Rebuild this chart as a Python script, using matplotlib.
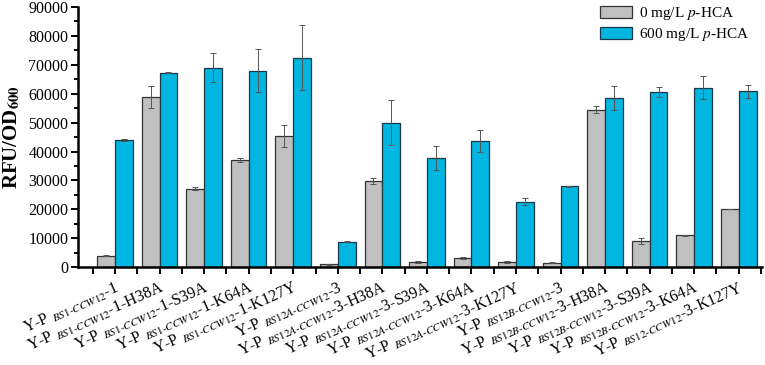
import numpy as np
import matplotlib.pyplot as plt
from matplotlib.ticker import MultipleLocator

plt.rcParams['font.family'] = ['Liberation Serif', 'DejaVu Serif']
plt.rcParams['mathtext.fontset'] = 'stix'

promoters = ['BS1-CCW12'] * 5 + ['BS12A-CCW12'] * 5 + ['BS12B-CCW12'] * 4 + ['BS12-CCW12']
suffixes = ['1', '1-H38A', '1-S39A', '1-K64A', '1-K127Y',
            '3', '3-H38A', '3-S39A', '3-K64A', '3-K127Y',
            '3', '3-H38A', '3-S39A', '3-K64A', '3-K127Y']

gray_vals = [4000, 58800, 27200, 37200, 45300,
             1000, 29800, 1800, 3300, 1800,
             1500, 54500, 9000, 11000, 20000]
gray_err = [200, 3700, 400, 700, 3800,
            200, 1000, 400, 300, 200,
            200, 1300, 1100, 200, 0]
blue_vals = [44000, 67300, 69000, 68000, 72500,
             8800, 50000, 37700, 43600, 22700,
             28000, 58500, 60500, 62000, 60800]
blue_err = [300, 300, 5000, 7300, 11300,
            100, 7700, 4200, 3800, 1200,
            200, 4000, 1800, 4000, 2300]

labels = []
for p, s in zip(promoters, suffixes):
    sub = p.replace('-', r'\text{-}')
    labels.append(r'Y-P $_{\mathit{' + sub + '}}$-' + s)

x = np.arange(len(gray_vals))
w = 0.4

fig = plt.figure(figsize=(7.65, 3.65), dpi=100)
ax = fig.add_axes([0.102, 0.268, 0.894, 0.713])

ekw = dict(ecolor='#555555', elinewidth=0.7, capsize=2, capthick=0.7)
ax.bar(x - w / 2, gray_vals, w, yerr=gray_err, color='#C0C0C0', edgecolor='#333333',
       linewidth=0.9, error_kw=ekw, label=r'0 mg/L $\mathit{p}$-HCA')
ax.bar(x + w / 2, blue_vals, w, yerr=blue_err, color='#00B5E0', edgecolor='#1a3a4a',
       linewidth=0.9, error_kw=ekw, label=r'600 mg/L $\mathit{p}$-HCA')

ax.set_xlim(-0.83, 14.52)
ax.set_ylim(0, 90000)
ax.yaxis.set_major_locator(MultipleLocator(10000))
ax.yaxis.set_minor_locator(MultipleLocator(5000))
ax.set_xticks(x)
ax.set_xticks(np.arange(-0.5, 14.6, 1), minor=True)
ax.set_xticklabels(labels, rotation=24, ha='right', rotation_mode='anchor', fontsize=11.5)
ax.tick_params(axis='x', which='both', length=5, width=1.4, pad=4)
ax.tick_params(axis='y', which='major', length=5, width=1.4, labelsize=11.5, pad=2)
ax.tick_params(axis='y', which='minor', length=3, width=1.4)

for side in ['top', 'right']:
    ax.spines[side].set_visible(False)
for side in ['left', 'bottom']:
    ax.spines[side].set_linewidth(1.8)

ax.set_ylabel(r'RFU/OD$_{\mathbf{600}}$', fontsize=15, fontweight='bold', labelpad=4)

ax.legend(loc='upper right', bbox_to_anchor=(0.99, 1.03), frameon=False, fontsize=11,
          handlelength=2.1, handleheight=0.8, handletextpad=0.4, labelspacing=0.25,
          borderaxespad=0.0)

fig.savefig('out.png', dpi=100)
